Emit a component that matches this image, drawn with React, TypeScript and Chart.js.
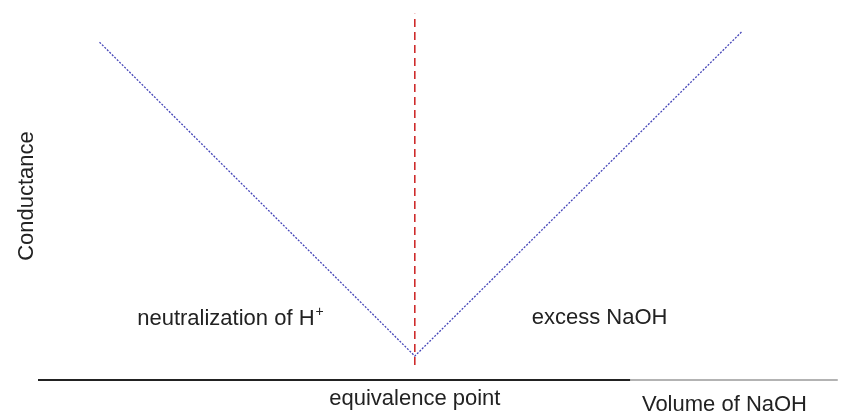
import React, { useEffect, useRef } from "react";
import { Chart, registerables } from "chart.js";

Chart.register(...registerables);

// Data
const volume = [8, 49, 91.5];
const conductance = [91.8, 6.5, 94.6];
const eqVolume = 49;
const eqConductanceRange = [4.1, 99.5];
const axisBlackRange = [0, 77];
const axisGreyRange = [77, 104];
const xTickLabel = "equivalence point";
const xTitle = "Volume of NaOH";
const yTitle = "Conductance";
const regionLabels = ["neutralization of H", "excess NaOH"];
const regionSuperscripts = ["+", ""];
const regionX = [12.9, 64.2];
const regionY = [14.9, 15.1];

const FONT = "'Liberation Sans', Arial, sans-serif";
const TEXT_COLOR = "#222";

const labelPlugin = {
  id: "regionLabels",
  afterDatasetsDraw(chart: any) {
    const { ctx, scales } = chart;
    ctx.save();
    ctx.fillStyle = TEXT_COLOR;
    ctx.textBaseline = "alphabetic";
    ctx.textAlign = "left";
    regionLabels.forEach((t, i) => {
      const px = scales.x.getPixelForValue(regionX[i]);
      const py = scales.y.getPixelForValue(regionY[i]);
      ctx.font = `22px ${FONT}`;
      ctx.fillText(t, px, py);
      if (regionSuperscripts[i]) {
        const w = ctx.measureText(t).width;
        ctx.font = `14px ${FONT}`;
        ctx.fillText(regionSuperscripts[i], px + w + 1, py - 9);
      }
    });
    ctx.restore();
  },
};

export default function App() {
  const ref = useRef<HTMLCanvasElement | null>(null);
  useEffect(() => {
    if (!ref.current) return;
    const chart = new Chart(ref.current, {
      type: "scatter",
      data: {
        datasets: [
          {
            data: volume.map((v, i) => ({ x: v, y: conductance[i] })),
            showLine: true,
            borderColor: "#4545b8",
            borderWidth: 1.3,
            borderDash: [2, 1.5],
            pointRadius: 0,
            clip: false,
          } as any,
          {
            data: eqConductanceRange.map((c) => ({ x: eqVolume, y: c })),
            showLine: true,
            borderColor: "#cc1f1f",
            borderWidth: 1.5,
            borderDash: [8, 5],
            pointRadius: 0,
            clip: false,
          },
          {
            data: axisBlackRange.map((v) => ({ x: v, y: 0 })),
            showLine: true,
            borderColor: "#222",
            borderWidth: 2,
            pointRadius: 0,
            clip: false,
          },
          {
            data: axisGreyRange.map((v) => ({ x: v, y: 0 })),
            showLine: true,
            borderColor: "#9a9a9a",
            borderWidth: 1.5,
            pointRadius: 0,
            clip: false,
          },
        ],
      },
      options: {
        animation: false,
        responsive: true,
        maintainAspectRatio: false,
        layout: { padding: { left: 0, right: 42, top: 12, bottom: 0 } },
        plugins: { legend: { display: false }, tooltip: { enabled: false } },
        scales: {
          x: {
            type: "linear",
            min: 0,
            max: 100,
            grid: { display: false },
            border: { display: false },
            afterBuildTicks: (axis: any) => {
              axis.ticks = [{ value: eqVolume }];
            },
            afterFit: (scale: any) => {
              scale.height = 38;
            },
            ticks: {
              autoSkip: false,
              maxRotation: 0,
              padding: -2,
              color: TEXT_COLOR,
              font: { family: FONT, size: 22 },
              callback: () => xTickLabel,
            },
            title: {
              display: true,
              text: xTitle,
              align: "end",
              color: TEXT_COLOR,
              font: { family: FONT, size: 22 },
              padding: { top: 0, bottom: 0 },
            },
          },
          y: {
            type: "linear",
            min: 0,
            max: 100,
            grid: { display: false },
            border: { display: false },
            ticks: { display: false },
            afterFit: (scale: any) => {
              scale.width = 38;
            },
            title: {
              display: true,
              text: yTitle,
              color: TEXT_COLOR,
              font: { family: FONT, size: 22 },
              padding: { top: 14, bottom: 0 },
            },
          },
        },
      },
      plugins: [labelPlugin],
    });
    return () => chart.destroy();
  }, []);
  return (
    <div style={{ position: "fixed", left: 0, top: 0, width: 849, height: 418, background: "#fff" }}>
      <canvas ref={ref} />
    </div>
  );
}
